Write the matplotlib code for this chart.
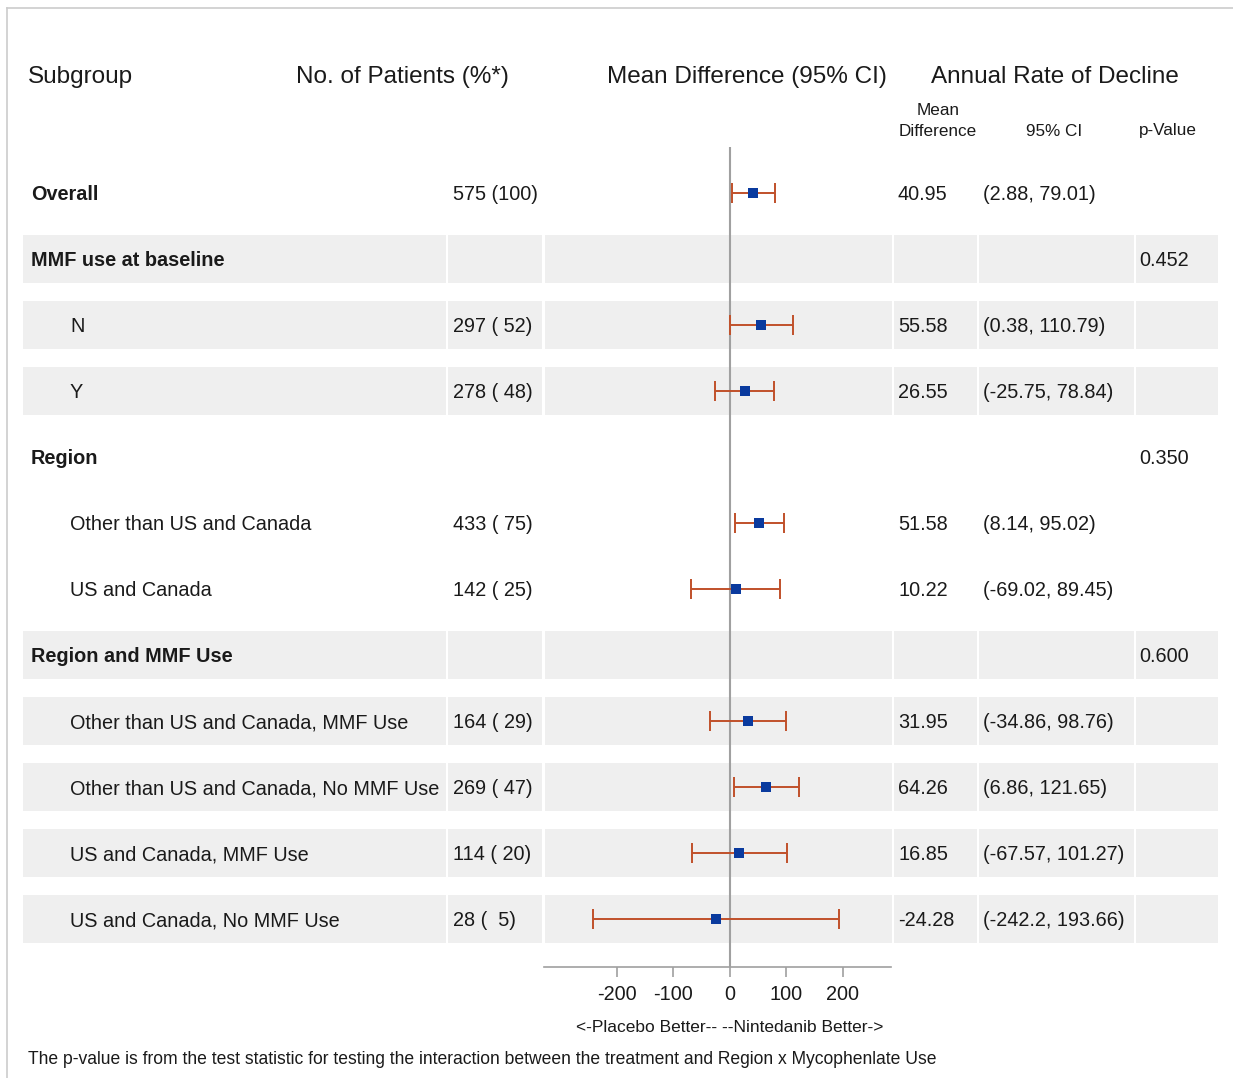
import numpy as np
import matplotlib
matplotlib.use("Agg")
from matplotlib import pyplot as plt
from matplotlib.patches import Rectangle

plt.rcParams['font.family'] = ['Liberation Sans', 'DejaVu Sans']

# rows of the table, top to bottom
labels = ['Overall', 'MMF use at baseline', 'N', 'Y', 'Region',
          'Other than US and Canada', 'US and Canada', 'Region and MMF Use',
          'Other than US and Canada, MMF Use', 'Other than US and Canada, No MMF Use',
          'US and Canada, MMF Use', 'US and Canada, No MMF Use']
is_group = [True, True, False, False, True, False, False, True, False, False, False, False]
shaded = [False, True, True, True, False, False, False, True, True, True, True, True]
patients = ['575 (100)', '', '297 ( 52)', '278 ( 48)', '', '433 ( 75)', '142 ( 25)',
            '', '164 ( 29)', '269 ( 47)', '114 ( 20)', '28 (  5)']
mean_diff = [40.95, None, 55.58, 26.55, None, 51.58, 10.22, None, 31.95, 64.26, 16.85, -24.28]
ci_low = [2.88, None, 0.38, -25.75, None, 8.14, -69.02, None, -34.86, 6.86, -67.57, -242.2]
ci_high = [79.01, None, 110.79, 78.84, None, 95.02, 89.45, None, 98.76, 121.65, 101.27, 193.66]
ci_text = ['(2.88, 79.01)', '', '(0.38, 110.79)', '(-25.75, 78.84)', '', '(8.14, 95.02)',
           '(-69.02, 89.45)', '', '(-34.86, 98.76)', '(6.86, 121.65)', '(-67.57, 101.27)',
           '(-242.2, 193.66)']
p_values = ['', '0.452', '', '', '0.350', '', '', '0.600', '', '', '', '']
ticks = [-200, -100, 0, 100, 200]

W, H = 1233, 1078
ROW0, STEP = 193, 66          # pixel centre of first row and row pitch
TXT = '#1a1a1a'
BAND = '#efefef'
BAR = '#c0502a'
DOT = '#0a3a9e'


def fx(x):
    return x / W


def fy(y):
    return 1 - y / H


def row_of(y):
    return (y - ROW0) / STEP


fig = plt.figure(figsize=(W / 100, H / 100), dpi=100)

# background axes for the shaded bands, same row units as the forest panel
bg = fig.add_axes([0, 0, 1, 1])
bg.set_xlim(0, W)
bg.set_ylim(row_of(H), row_of(0))
bg.axis('off')

# outer frame lines
bg.plot([7, W], [row_of(8), row_of(8)], color='#cccccc', lw=1.2)
bg.plot([7, 7], [row_of(8), row_of(H)], color='#cccccc', lw=1.2)

cols = [(23, 446), (448, 542), (545, 892), (894, 977), (979, 1134), (1136, 1218)]
half = 24 / STEP
for i, s in enumerate(shaded):
    if s:
        for x0, x1 in cols:
            bg.add_patch(Rectangle((x0, i - half), x1 - x0, 2 * half,
                                   facecolor=BAND, edgecolor='none'))

# table text (nudged a touch below the row centre, like the original output)
dy = 2 / STEP
for i, lab in enumerate(labels):
    y = i + dy
    if is_group[i]:
        bg.text(31, y, lab, fontsize=14.3, fontweight='bold', color=TXT, va='center')
    else:
        bg.text(70, y, lab, fontsize=14.3, color=TXT, va='center')
    bg.text(453, y, patients[i], fontsize=14.3, color=TXT, va='center')
    if mean_diff[i] is not None:
        bg.text(898, y, f'{mean_diff[i]:.2f}', fontsize=14.3, color=TXT, va='center')
    bg.text(983, y, ci_text[i], fontsize=14.3, color=TXT, va='center')
    bg.text(1139, y, p_values[i], fontsize=14.3, color=TXT, va='center')

# column headers
fig.text(fx(28), fy(77), 'Subgroup', fontsize=17.5, color=TXT, va='center')
fig.text(fx(296), fy(77), 'No. of Patients (%*)', fontsize=17.5, color=TXT, va='center')
fig.text(fx(607), fy(77), 'Mean Difference (95% CI)', fontsize=17.5, color=TXT, va='center')
fig.text(fx(931), fy(77), 'Annual Rate of Decline', fontsize=17.5, color=TXT, va='center')
fig.text(fx(938), fy(121), 'Mean\nDifference', fontsize=12.3, color=TXT,
         ha='center', va='center', linespacing=1.45)
fig.text(fx(1054), fy(131), '95% CI', fontsize=12.3, color=TXT, ha='center', va='center')
fig.text(fx(1139), fy(131), 'p-Value', fontsize=12.3, color=TXT, va='center')

# forest panel
ax = fig.add_axes([fx(544), fy(967), (891 - 544) / W, (967 - 147) / H])
ax.patch.set_alpha(0)
ax.set_xlim(-329, 285)
ax.set_ylim(row_of(967), row_of(147))
ax.axvline(0, color='#a0a0a0', lw=1.5, zorder=1)

rows = [i for i, m in enumerate(mean_diff) if m is not None]
est = np.array([mean_diff[i] for i in rows])
lo = np.array([ci_low[i] for i in rows])
hi = np.array([ci_high[i] for i in rows])
ax.errorbar(est, rows, xerr=[est - lo, hi - est], fmt='none', ecolor=BAR,
            elinewidth=1.4, capsize=7.5, capthick=1.4, zorder=2)
ax.plot(est, rows, 's', color=DOT, markersize=6.5, markeredgewidth=0, zorder=3)

for side in ['top', 'right', 'left']:
    ax.spines[side].set_visible(False)
ax.spines['bottom'].set_color('#a0a0a0')
ax.spines['bottom'].set_linewidth(1.2)
ax.set_yticks([])
ax.set_xticks(ticks)
ax.set_xticklabels([str(t) for t in ticks])
ax.tick_params(axis='x', length=7, width=1.2, color='#a0a0a0', labelsize=14.3,
               labelcolor=TXT, pad=6)

fig.text(fx(730), fy(1028), '<-Placebo Better-- --Nintedanib Better->', fontsize=12.5,
         color=TXT, ha='center', va='center')
fig.text(fx(28), fy(1059), 'The p-value is from the test statistic for testing the '
         'interaction between the treatment and Region x Mycophenlate Use',
         fontsize=12.65, color=TXT, va='center')

fig.savefig('out.png', dpi=100)
